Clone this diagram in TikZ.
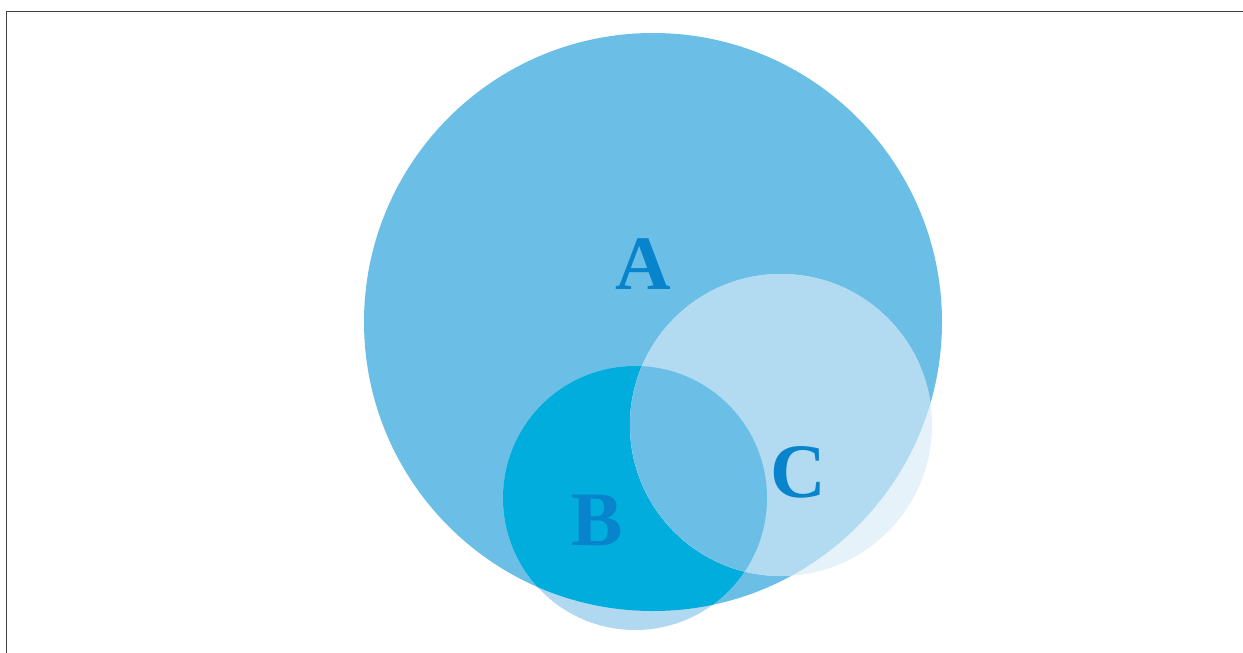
\documentclass[tikz,border=0pt]{standalone}
\usepackage{fontspec}
\setmainfont{Liberation Serif}
\usepackage{tikz}

\definecolor{setA}{HTML}{6BBFE6}
\definecolor{setBin}{HTML}{00ADDC}
\definecolor{setBout}{HTML}{B0D8F0}
\definecolor{setCin}{HTML}{B2DAF0}
\definecolor{setCout}{HTML}{E6F2FA}
\definecolor{labelblue}{HTML}{0884CC}

\begin{document}
\begin{tikzpicture}[
  x=1pt, y=-1pt,
  setlabel/.style={anchor=base, inner sep=0pt, text=labelblue,
                   font=\fontsize{77}{77}\selectfont\bfseries},
  frameline/.style={draw=black!75, line width=1.6pt}
]
\useasboundingbox (0,0) rectangle (1243,653);

% frame
\coordinate (fbl) at (6.5,653);
\coordinate (ftl) at (6.5,11.5);
\coordinate (ftr) at (1243,11.5);
\draw[frameline] (fbl) -- (ftl) -- (ftr);

% set centres
\coordinate (ca) at (653,322);
\coordinate (cb) at (635,498);
\coordinate (cc) at (781,425);

% A
\fill[setA] (ca) circle[radius=289];
% B
\fill[setBout] (cb) circle[radius=132];
\begin{scope}
  \clip (ca) circle[radius=289];
  \fill[setBin] (cb) circle[radius=132];
\end{scope}
% C
\fill[setCout] (cc) circle[radius=151];
\begin{scope}
  \clip (ca) circle[radius=289];
  \fill[setCin] (cc) circle[radius=151];
  \clip (cb) circle[radius=132];
  \fill[setA] (cc) circle[radius=151];
\end{scope}

% labels
\node[setlabel] (la) at (643,289) {A};
\node[setlabel] (lb) at (597,545) {B};
\node[setlabel] (lc) at (798,497) {C};
\end{tikzpicture}
\end{document}
